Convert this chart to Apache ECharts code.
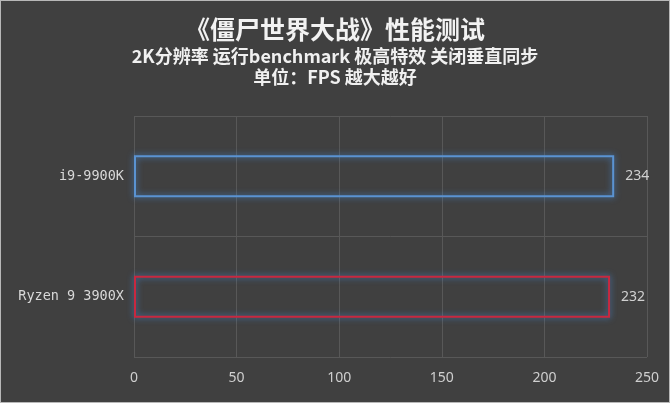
<!DOCTYPE html>
<html><head><meta charset="utf-8">
<script src="https://cdn.jsdelivr.net/npm/echarts@6/dist/echarts.min.js"></script>
<style>
html,body{margin:0;padding:0;background:#404040;}
#c{position:absolute;left:0;top:0;width:668px;height:401px;border:1px solid #b8b8b8;}
</style></head>
<body><div id="c"></div>
<script>
const titleText = '《僵尸世界大战》性能测试';
const subLines = ['2K分辨率 运行benchmark 极高特效 关闭垂直同步', '单位：FPS 越大越好'];
const categories = ['Ryzen 9 3900X', 'i9-9900K'];
const values = [232, 234];
const borderColors = ['#c8283f', '#5a93d2'];
const axisMin = 0, axisMax = 250, axisStep = 50;

const chart = echarts.init(document.getElementById('c'));
chart.setOption({
  backgroundColor: '#404040',
  title: [
    {text: titleText, left: 'center', top: 11,
     textStyle: {color: '#f2f2f2', fontSize: 25, fontWeight: 'bold', fontFamily: 'Noto Sans CJK SC'}},
    {text: subLines.join('\n'), left: 'center', top: 40,
     textStyle: {color: '#f0f0f0', fontSize: 18, fontWeight: 'bold', lineHeight: 21, fontFamily: 'Noto Sans CJK SC'}}
  ],
  grid: {left: 133, right: 22, top: 115, bottom: 45},
  xAxis: {
    type: 'value', min: axisMin, max: axisMax, interval: axisStep,
    axisLine: {show: false}, axisTick: {show: false},
    axisLabel: {color: '#cfcfcf', fontSize: 14, margin: 14, fontFamily: 'Noto Sans'},
    splitLine: {lineStyle: {color: '#585858', width: 1}}
  },
  yAxis: {
    type: 'category', data: categories,
    axisLine: {show: false}, axisTick: {show: false},
    axisLabel: {color: '#d8d8d8', fontSize: 13.5, margin: 10, fontFamily: 'DejaVu Sans Mono'},
    splitLine: {show: true, lineStyle: {color: '#585858', width: 1}}
  },
  series: [{
    type: 'bar', data: values.map((v, i) => ({
      value: v,
      itemStyle: {color: 'rgba(0,0,0,0)', borderColor: borderColors[i], borderWidth: 2,
        shadowBlur: 6, shadowColor: 'rgba(70,140,220,0.9)'}
    })),
    barWidth: '35%',
    label: {show: true, position: 'right', distance: 11, color: '#d0d0d0', fontSize: 14, fontFamily: 'Noto Sans'}
  }]
});
</script></body></html>
